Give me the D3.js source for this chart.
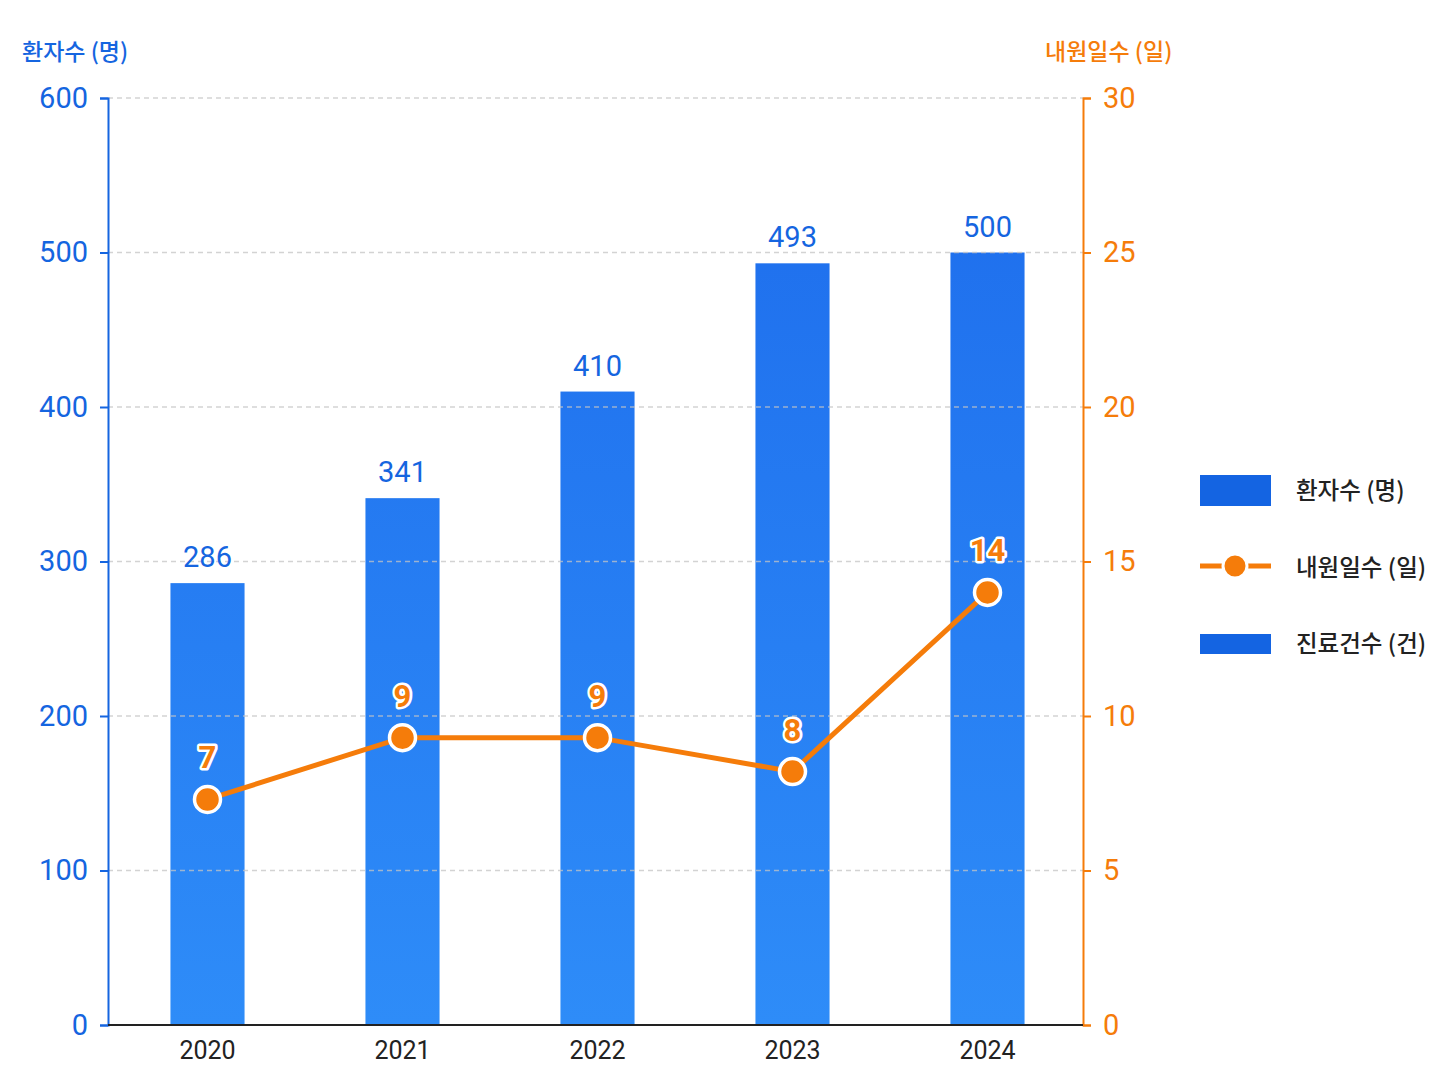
<!DOCTYPE html>
<html><head><meta charset="utf-8">
<script src="https://cdn.jsdelivr.net/npm/d3@7"></script>
<style>
body{margin:0;background:#fff;}
svg{display:block;}
.num{font-family:"Roboto","Noto Sans",sans-serif;}
.kr{font-family:"Noto Sans CJK KR","Noto Sans",sans-serif;}
</style></head>
<body>
<svg id="c" width="1448" height="1086"></svg>
<script>
const years = ["2020","2021","2022","2023","2024"];
const patients = [286, 341, 410, 493, 500];
const visitDays = [7.3, 9.3, 9.3, 8.2, 14.0];
const visitLabels = ["7","9","9","8","14"];
const leftTicks = [0,100,200,300,400,500,600];
const rightTicks = [0,5,10,15,20,25,30];
const leftTitle = "환자수 (명)";
const rightTitle = "내원일수 (일)";
const legendItems = ["환자수 (명)","내원일수 (일)","진료건수 (건)"];

const BLUE = "#1565e0", ORANGE = "#f57c0a";
const svg = d3.select("#c");
const L = 108, R = 1083, T = 98, B = 1025;

const x = d3.scaleBand().domain(years).range([L + 2, R + 2]).paddingInner(0.62).paddingOuter(0.31);
const yL = d3.scaleLinear().domain([0,600]).range([B, T]);
const yR = d3.scaleLinear().domain([0,30]).range([B, T]);

const defs = svg.append("defs");
const g = defs.append("linearGradient").attr("id","bg")
  .attr("gradientUnits","userSpaceOnUse").attr("x1",0).attr("x2",0).attr("y1",T).attr("y2",B);
g.append("stop").attr("offset","0").attr("stop-color","#1d6cec");
g.append("stop").attr("offset","1").attr("stop-color","#2e8cf8");

// bars
svg.append("g").selectAll("rect").data(years).join("rect")
  .attr("x", d => x(d)).attr("width", x.bandwidth())
  .attr("y", (d,i) => yL(patients[i])).attr("height", (d,i) => B - yL(patients[i]))
  .attr("fill","url(#bg)");

// grid
svg.append("g").selectAll("line").data(leftTicks.filter(t=>t>0)).join("line")
  .attr("x1", L).attr("x2", R).attr("y1", d=>yL(d)).attr("y2", d=>yL(d))
  .attr("stroke","#c4c4c4").attr("stroke-opacity",0.75).attr("stroke-width",1.3).attr("stroke-dasharray","5,4");

// left axis
const la = svg.append("g").attr("transform",`translate(${L},0)`)
  .call(d3.axisLeft(yL).tickValues(leftTicks).tickSize(8).tickPadding(12));
la.select(".domain").attr("stroke",BLUE).attr("stroke-width",2);
la.selectAll(".tick line").attr("stroke",BLUE).attr("stroke-width",2);
la.selectAll(".tick text").attr("class","num").attr("fill",BLUE).attr("font-size",29);

// right axis
const ra = svg.append("g").attr("transform",`translate(${R},0)`)
  .call(d3.axisRight(yR).tickValues(rightTicks).tickSize(8).tickPadding(12));
ra.select(".domain").attr("stroke",ORANGE).attr("stroke-width",2);
ra.selectAll(".tick line").attr("stroke",ORANGE).attr("stroke-width",2);
ra.selectAll(".tick text").attr("class","num").attr("fill",ORANGE).attr("font-size",29);

// bottom axis
const bx = d3.scaleBand().domain(years).range([L + 2, R + 2]).paddingInner(0.62).paddingOuter(0.31);
const ba = svg.append("g").attr("transform",`translate(0,${B})`)
  .call(d3.axisBottom(bx).tickSize(0).tickPadding(16));
ba.select(".domain").attr("d",`M${L},0H${R}`).attr("stroke","#222").attr("stroke-width",2);
ba.selectAll(".tick text").attr("class","num").attr("fill","#222").attr("font-size",25);

// axis titles
svg.append("text").attr("class","kr").attr("x",22).attr("y",60).attr("fill",BLUE).attr("font-size",23).attr("font-weight",500).text(leftTitle);
svg.append("text").attr("class","kr").attr("x",1045).attr("y",60).attr("fill",ORANGE).attr("font-size",23).attr("font-weight",500).text(rightTitle);

// bar labels
svg.append("g").selectAll("text").data(years).join("text").attr("class","num")
  .attr("x", d => x(d) + x.bandwidth()/2).attr("y", (d,i) => yL(patients[i]) - 16)
  .attr("text-anchor","middle").attr("fill",BLUE).attr("font-size",29)
  .text((d,i)=>patients[i]);

// line
const cx = d => x(d) + x.bandwidth()/2;
svg.append("path").datum(years)
  .attr("d", d3.line().x(d=>cx(d)).y((d,i)=>yR(visitDays[i])))
  .attr("fill","none").attr("stroke",ORANGE).attr("stroke-width",5);
svg.append("g").selectAll("circle").data(years).join("circle")
  .attr("cx", cx).attr("cy",(d,i)=>yR(visitDays[i])).attr("r",13)
  .attr("fill",ORANGE).attr("stroke","#fff").attr("stroke-width",3.5);
svg.append("g").selectAll("text").data(years).join("text").attr("class","num")
  .attr("x", cx).attr("y",(d,i)=>yR(visitDays[i]) - 31)
  .attr("text-anchor","middle").attr("fill",ORANGE).attr("font-size",31).attr("font-weight","bold")
  .attr("stroke","#fff").attr("stroke-width",5).attr("paint-order","stroke").attr("stroke-linejoin","round")
  .text((d,i)=>visitLabels[i]);

// legend
const lg = svg.append("g");
lg.append("rect").attr("x",1200).attr("y",475).attr("width",71).attr("height",31).attr("fill","#1464e2");
lg.append("line").attr("x1",1200).attr("x2",1271).attr("y1",566).attr("y2",566).attr("stroke",ORANGE).attr("stroke-width",5);
lg.append("circle").attr("cx",1235).attr("cy",566).attr("r",12).attr("fill",ORANGE).attr("stroke","#fff").attr("stroke-width",3);
lg.append("rect").attr("x",1200).attr("y",634).attr("width",71).attr("height",20).attr("fill","#1464e2");
lg.selectAll("text").data(legendItems).join("text").attr("class","kr")
  .attr("x",1296).attr("y",(d,i)=>[499,576,652][i]).attr("font-size",23.5).attr("font-weight",500).attr("fill","#222").text(d=>d);
</script>
</body></html>
